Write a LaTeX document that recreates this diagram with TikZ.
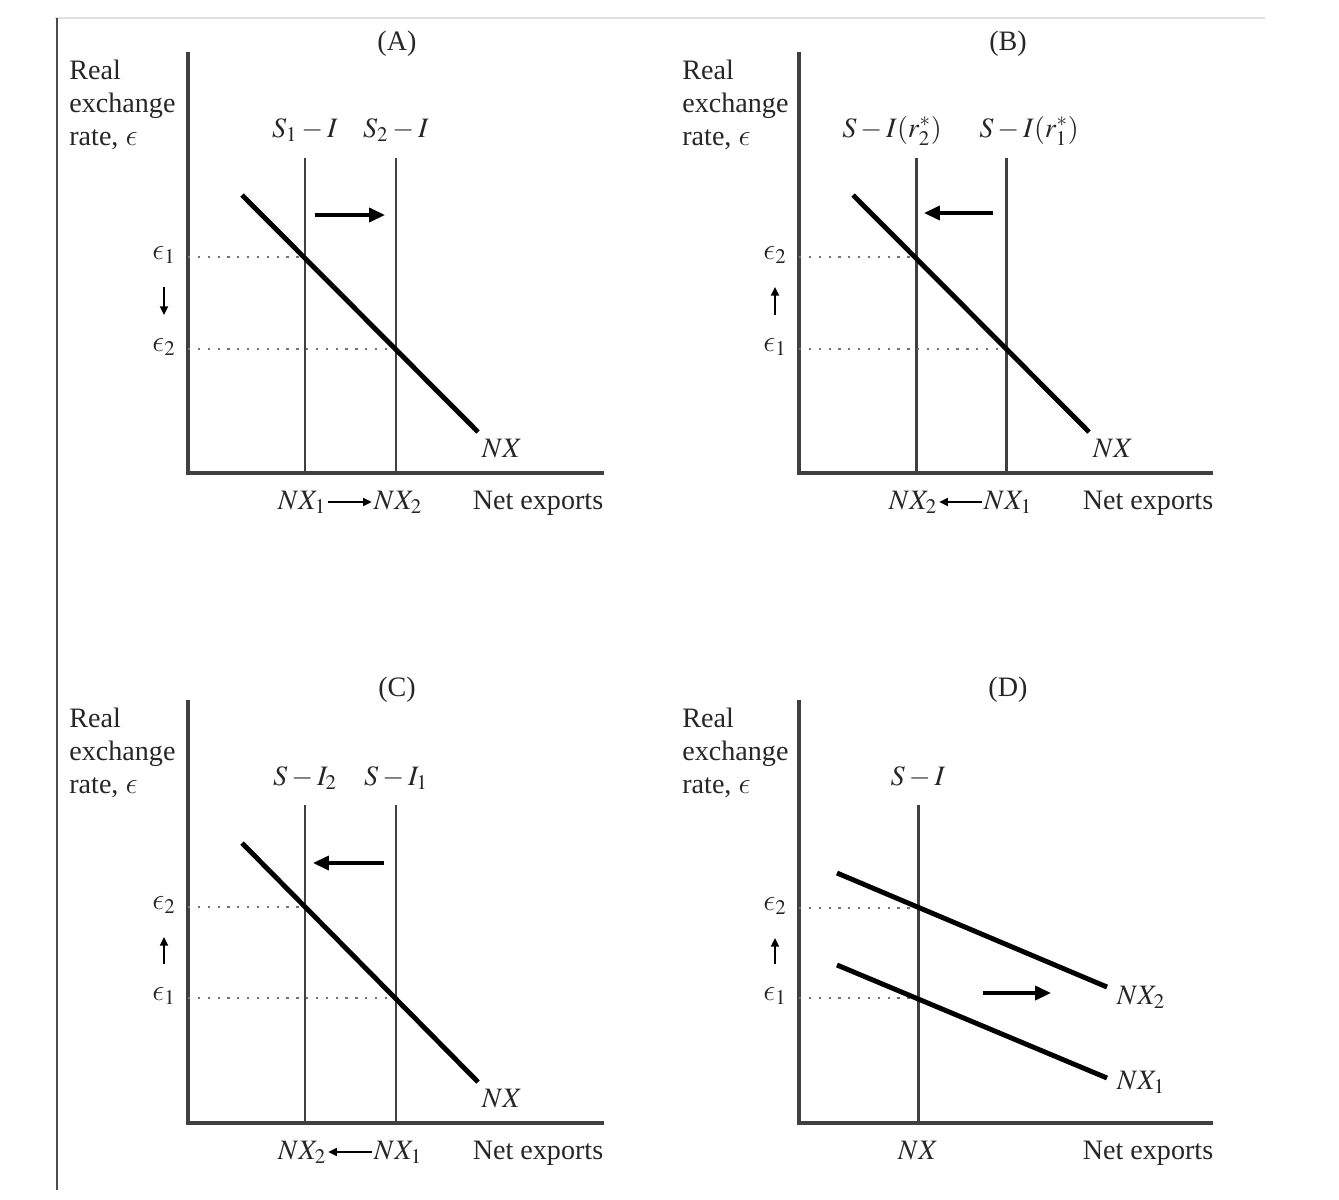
\documentclass[tikz,border=0pt]{standalone}
\usepackage{mathptmx}
\usepackage{fontspec}
\setmainfont{Liberation Serif}
\usetikzlibrary{arrows.meta, positioning}
\DeclareSymbolFont{cmlet}{OML}{cmm}{m}{it}
\DeclareMathSymbol{\lunate}{\mathord}{cmlet}{"0F}

\tikzset{
  axisline/.style={draw=black!75, line width=1.8pt},
  sline/.style={draw=black!75, line width=1.7pt},
  nxline/.style={draw=black, line width=2.8pt},
  guide/.style={draw=black!55, line width=1.3pt, dash pattern=on 1.3pt off 4.3pt},
  shiftarrow/.style={draw=black, line width=1.8pt, -{Triangle[length=9pt, width=8pt]}},
  smallarrow/.style={draw=black, line width=1.3pt, -{Triangle[length=5pt, width=4.5pt]}},
  ylab/.style={align=left, anchor=north west, inner sep=0pt}
}

\begin{document}
\begin{tikzpicture}[x=0.02cm, y=-0.02cm,
  every node/.style={font=\fontsize{16}{18.7}\selectfont, text=black!85, inner sep=1pt}]
  \useasboundingbox (0,0) rectangle (1339,1200);

  % page frame
  \draw[draw=black!12, line width=1pt] (55,18) -- (1265,18);
  \draw[draw=black!70, line width=1.4pt] (57,18) -- (57,1190);

  % (A) saving up
  \begin{scope}
    \draw[axisline] (188,52) -- (188,473) -- (604,473);
    \node (a-title) at (397,44) {(A)};
    \node[ylab] (a-ylab) at (69,60) {Real\\exchange\\rate, $\lunate$};
    \draw[sline] (305,158) -- (305,473);
    \draw[sline] (396,158) -- (396,473);
    \node[anchor=base] (a-s1) at (305,137) {$S_1-I$};
    \node[anchor=base] (a-s2) at (396,137) {$S_2-I$};
    \draw[guide] (188,257) -- (305,257);
    \draw[guide] (188,349) -- (396,349);
    \draw[nxline] (242,195) -- (478,432);
    \node (a-nx) at (502,449) {$NX$};
    \node (a-e1) at (164,255) {$\lunate_1$};
    \node (a-e2) at (164,347) {$\lunate_2$};
    \draw[smallarrow, shorten <=12pt, shorten >=12pt] (a-e1) -- (a-e2);
    \draw[shiftarrow] (315,215) -- (385,215);
    \node[anchor=base] (a-nx1) at (302,509) {$NX_1$};
    \node[anchor=base] (a-nx2) at (398,509) {$NX_2$};
    \draw[smallarrow] (a-nx1) -- (a-nx2);
    \node[anchor=base] (a-net) at (538,509) {Net exports};
  \end{scope}

  % (B) world interest rate
  \begin{scope}[shift={(611,0)}]
    \draw[axisline] (188,52) -- (188,473) -- (602,473);
    \node (b-title) at (397,44) {(B)};
    \node[ylab] (b-ylab) at (71,60) {Real\\exchange\\rate, $\lunate$};
    \draw[sline] (305,158) -- (305,473);
    \draw[sline] (395,158) -- (395,473);
    \node[anchor=base] (b-s2) at (281,137) {$S-I(r_2^*)$};
    \node[anchor=base] (b-s1) at (418,137) {$S-I(r_1^*)$};
    \draw[guide] (188,257) -- (305,257);
    \draw[guide] (188,349) -- (395,349);
    \draw[nxline] (242,195) -- (478,432);
    \node (b-nx) at (502,449) {$NX$};
    \node (b-e2) at (164,255) {$\lunate_2$};
    \node (b-e1) at (164,347) {$\lunate_1$};
    \draw[smallarrow, shorten <=12pt, shorten >=12pt] (b-e1) -- (b-e2);
    \draw[shiftarrow] (382,213) -- (313,213);
    \node[anchor=base] (b-nx2) at (302,509) {$NX_2$};
    \node[anchor=base] (b-nx1) at (397,509) {$NX_1$};
    \draw[smallarrow] (b-nx1) -- (b-nx2);
    \node[anchor=base] (b-net) at (537,509) {Net exports};
  \end{scope}

  % (C) investment up
  \begin{scope}[shift={(0,650)}]
    \draw[axisline] (188,50) -- (188,473) -- (604,473);
    \node (c-title) at (397,40) {(C)};
    \node[ylab] (c-ylab) at (69,58) {Real\\exchange\\rate, $\lunate$};
    \draw[sline] (305,155) -- (305,473);
    \draw[sline] (396,155) -- (396,473);
    \node[anchor=base] (c-s2) at (305,135) {$S-I_2$};
    \node[anchor=base] (c-s1) at (396,135) {$S-I_1$};
    \draw[guide] (188,257) -- (305,257);
    \draw[guide] (188,348) -- (396,348);
    \draw[nxline] (242,193) -- (478,432);
    \node (c-nx) at (502,449) {$NX$};
    \node (c-e2) at (164,255) {$\lunate_2$};
    \node (c-e1) at (164,346) {$\lunate_1$};
    \draw[smallarrow, shorten <=12pt, shorten >=12pt] (c-e1) -- (c-e2);
    \draw[shiftarrow] (384,213) -- (313,213);
    \node[anchor=base] (c-nx2) at (302,509) {$NX_2$};
    \node[anchor=base] (c-nx1) at (398,509) {$NX_1$};
    \draw[smallarrow] (c-nx1) -- (c-nx2);
    \node[anchor=base] (c-net) at (538,509) {Net exports};
  \end{scope}

  % (D) protectionism
  \begin{scope}[shift={(611,650)}]
    \draw[axisline] (188,50) -- (188,473) -- (602,473);
    \node (d-title) at (397,40) {(D)};
    \node[ylab] (d-ylab) at (71,58) {Real\\exchange\\rate, $\lunate$};
    \draw[sline] (307,155) -- (307,473);
    \node[anchor=base] (d-s) at (307,135) {$S-I$};
    \draw[guide] (188,258) -- (307,258);
    \draw[guide] (188,348) -- (307,348);
    \draw[nxline] (226,223) -- (496,337);
    \draw[nxline] (226,315) -- (496,428);
    \node (d-nx2) at (530,347) {$NX_2$};
    \node (d-nx1) at (530,432) {$NX_1$};
    \node (d-e2) at (164,256) {$\lunate_2$};
    \node (d-e1) at (164,346) {$\lunate_1$};
    \draw[smallarrow, shorten <=12pt, shorten >=12pt] (d-e1) -- (d-e2);
    \draw[shiftarrow] (372,343) -- (440,343);
    \node[anchor=base] (d-nx) at (307,509) {$NX$};
    \node[anchor=base] (d-net) at (537,509) {Net exports};
  \end{scope}
\end{tikzpicture}
\end{document}
